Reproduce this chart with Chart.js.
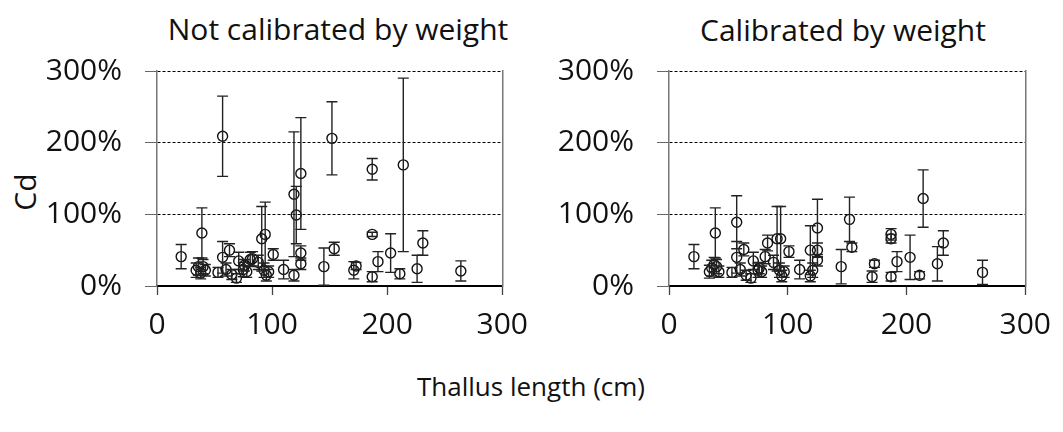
<!DOCTYPE html>
<html>
<head>
<meta charset="utf-8">
<script src="https://cdn.jsdelivr.net/npm/chart.js@4"></script>
<style>
  html, body { margin: 0; padding: 0; background: #fff; }
  body { width: 1063px; height: 432px; position: relative; overflow: hidden; font-family: 'Open Sans', sans-serif; color: #111; }
  .panel { position: absolute; top: 0; height: 400px; }
  .label { position: absolute; font-size: 30px; white-space: nowrap; transform: translate(-50%, -50%); }
</style>
</head>
<body>
<div class="label" style="left:338px;top:28px">Not calibrated by weight</div>
<div class="label" style="left:843px;top:29px">Calibrated by weight</div>
<div class="label" style="left:24px;top:192px;transform:translate(-50%,-50%) rotate(-90deg)">Cd</div>
<div class="label" style="left:531px;top:386px;font-size:26px">Thallus length (cm)</div>

<div class="panel" style="left:0;width:540px"><canvas id="rawChart"></canvas></div>
<div class="panel" style="left:530px;width:533px"><canvas id="calChart"></canvas></div>

<script>
// Длина таллома (см) для каждого образца
const lengths = [21, 34, 36, 38, 39, 40, 42, 53, 57, 57, 60, 63, 65, 69, 71, 75, 76, 78, 81, 83,
                 88, 91, 94, 93, 95, 97, 101, 110, 119, 119, 121, 125, 125, 125, 145, 152, 154,
                 171, 173, 187, 187, 187, 192, 203, 211, 214, 226, 231, 264];

// Cd без калибровки по весу, %
const cdRaw = [41, 22, 27, 18, 74, 27, 22, 19, 209, 40, 23, 50, 16, 11, 35, 23, 29, 20, 37, 38,
               33, 66, 72, 22, 15, 20, 44, 23, 128, 15, 99, 157, 46, 31, 27, 206, 52,
               22, 28, 163, 72, 13, 34, 46, 17, 169, 24, 60, 21];
const cdRawErr = [17, 10, 12, 8, 35, 10, 8, 7, 56, 22, 9, 9, 7, 6, 12, 10, 8, 8, 10, 10,
                  10, 45, 45, 10, 8, 8, 8, 13, 87, 8, 40, 78, 10, 8, 26, 51, 9,
                  12, 5, 15, 3, 7, 14, 27, 7, 121, 19, 17, 14];

// Cd с калибровкой по весу, %
const cdCal = [41, 20, 25, 30, 74, 27, 20, 19, 89, 40, 23, 51, 15, 11, 35, 22, 25, 20, 41, 60,
               33, 66, 66, 22, 14, 20, 48, 23, 50, 14, 22, 81, 50, 36, 27, 93, 54,
               13, 31, 72, 66, 13, 34, 40, 15, 122, 31, 60, 19];
const cdCalErr = [17, 9, 11, 10, 35, 10, 8, 7, 37, 22, 9, 9, 7, 6, 12, 10, 8, 8, 10, 11,
                  10, 45, 45, 10, 8, 8, 8, 13, 34, 8, 10, 40, 10, 8, 24, 31, 6,
                  8, 5, 8, 6, 6, 14, 31, 5, 40, 24, 17, 17];

const xTicks = [0, 100, 200, 300];
const yTicks = [0, 100, 200, 300];

const tickFont = { family: 'Open Sans', size: 30 };

// Планки погрешностей: вертикальная линия и засечки
const errorBars = {
    id: 'errorBars',
    afterDatasetsDraw(chart, args, opts) {
        const { ctx, scales: { x, y } } = chart;
        const pts = chart.data.datasets[0].data;
        ctx.save();
        ctx.strokeStyle = '#222';
        ctx.lineWidth = 1.4;
        pts.forEach((p, i) => {
            const e = opts.err[i];
            const px = x.getPixelForValue(p.x);
            const top = y.getPixelForValue(p.y + e);
            const bot = y.getPixelForValue(Math.max(p.y - e, 0));
            ctx.beginPath();
            ctx.moveTo(px, top);
            ctx.lineTo(px, bot);
            ctx.moveTo(px - 5.5, top);
            ctx.lineTo(px + 5.5, top);
            ctx.moveTo(px - 5.5, bot);
            ctx.lineTo(px + 5.5, bot);
            ctx.stroke();
        });
        ctx.restore();
    }
};

function makeChart(id, values, errs, axisWidth, padRight) {
    const ctx = document.getElementById(id).getContext('2d');
    return new Chart(ctx, {
        type: 'scatter',
        data: {
            datasets: [{
                data: lengths.map((x, i) => ({ x, y: values[i] })),
                pointRadius: 5,
                pointHoverRadius: 5,
                borderWidth: 1.4,
                borderColor: '#111',
                backgroundColor: 'rgba(255,255,255,0)'
            }]
        },
        options: {
            responsive: true,
            maintainAspectRatio: false,
            animation: false,
            layout: { padding: { top: 71, right: padRight, bottom: 54, left: 0 } },
            plugins: {
                legend: { display: false },
                tooltip: { enabled: false },
                errorBars: { err: errs }
            },
            scales: {
                x: {
                    type: 'linear',
                    min: 0,
                    max: 300,
                    afterBuildTicks: s => { s.ticks = xTicks.map(v => ({ value: v })); },
                    afterFit: s => { s.height = 60; },
                    ticks: { color: '#111', font: tickFont, padding: 12, maxRotation: 0 },
                    grid: { drawOnChartArea: false, tickLength: 9, tickColor: '#444', tickWidth: 1.3 },
                    border: { color: '#000', width: 2 }
                },
                y: {
                    min: 0,
                    max: 300,
                    afterBuildTicks: s => { s.ticks = yTicks.map(v => ({ value: v })); },
                    afterFit: s => { s.width = axisWidth; },
                    ticks: { color: '#111', font: tickFont, padding: 23, callback: v => v + '%' },
                    grid: { color: '#000', lineWidth: 1, tickLength: 12, tickColor: '#666', tickBorderDash: [] },
                    border: { color: '#777', width: 1.5, dash: [3, 2] }
                },
                yRight: {
                    position: 'right',
                    min: 0,
                    max: 300,
                    afterFit: s => { s.width = 0; },
                    ticks: { display: false },
                    grid: { drawOnChartArea: false, drawTicks: false },
                    border: { color: '#777', width: 1.5 }
                }
            }
        },
        plugins: [errorBars]
    });
}

makeChart('rawChart', cdRaw, cdRawErr, 157, 22);
makeChart('calChart', cdCal, cdCalErr, 139, 32);
</script>
</body>
</html>
